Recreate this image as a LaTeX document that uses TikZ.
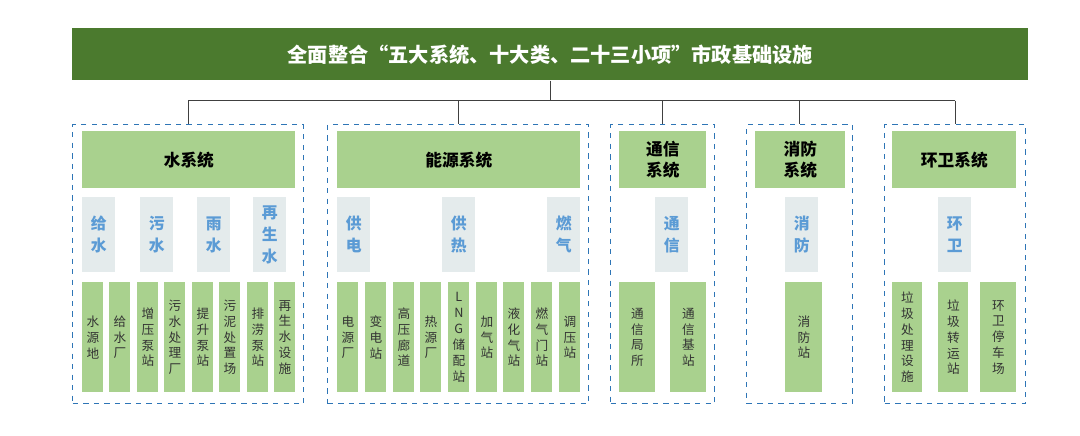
\documentclass[tikz,border=0pt]{standalone}
\usepackage{fontspec}
\setmainfont{Noto Sans CJK SC}
\usepackage{tikz}
\usetikzlibrary{calc,positioning}

\definecolor{titlegreen}{HTML}{4B7A2E}
\definecolor{lightgreen}{HTML}{A9D18E}
\definecolor{palegray}{HTML}{E4EBEC}
\definecolor{catblue}{HTML}{5B9BD5}
\definecolor{dashblue}{HTML}{2E75B6}

\tikzset{
  titlebox/.style={fill=titlegreen,text=white,font=\bfseries\fontsize{11.5}{13}\selectfont,anchor=north west,inner sep=0pt},
  groupbox/.style={draw=dashblue,dashed,thick,anchor=north west,inner sep=0pt},
  headbox/.style={fill=lightgreen,font=\bfseries\fontsize{9.5}{12}\selectfont,anchor=north west,inner sep=0pt,align=center},
  catbox/.style={fill=palegray,text=catblue,font=\bfseries\fontsize{9}{12.5}\selectfont,anchor=north west,inner sep=0pt,align=center},
  leafbox/.style={fill=lightgreen,text=black!80,font=\fontsize{7.2}{9}\selectfont,anchor=north west,inner sep=0pt,align=center},
  link/.style={draw=black!75,thick}
}

\begin{document}
\begin{tikzpicture}[x=0.02cm,y=-0.02cm]
  \useasboundingbox (0,0) rectangle (1080,436);

  %title
  \node[titlebox,minimum width=956*0.02cm,minimum height=52*0.02cm] (title) at (72,28) {全面整合“五大系统、十大类、二十三小项”市政基础设施};

  %dashed groups
  \foreach \name/\x/\w in {water/72/231,energy/327/261,comm/610/104,fire/746/106,env/884/141}
    \node[groupbox,minimum width=\w*0.02cm,minimum height=279*0.02cm] (\name) at (\x,124) {};

  %connectors
  \draw[link] (title.south) -- ++(0,20) coordinate (bus);
  \draw[link] (bus -| water.north) -- (bus -| env.north);
  \foreach \name in {water,energy,comm,fire,env}
    \draw[link] (bus -| \name.north) -- (\name.north);

  %headers
  \foreach \name/\x/\w/\txt in {hwater/82/213/水系统,henergy/337/243/能源系统,hcomm/619/87/通信\\系统,hfire/755/90/消防\\系统,henv/892/124/环卫系统}
    \node[headbox,minimum width=\w*0.02cm,minimum height=57*0.02cm] (\name) at (\x,131) {\txt};

  %categories
  \foreach \name/\x/\txt in {c1/82/给\\水,c2/140/污\\水,c3/197/雨\\水,c4/253/再\\生\\水,c5/337/供\\电,c6/442/供\\热,c7/547/燃\\气,c8/655/通\\信,c9/785/消\\防,c10/938/环\\卫}
    \node[catbox,minimum width=33*0.02cm,minimum height=75*0.02cm] (\name) at (\x,197) {\txt};

  %leaves
  \foreach \i/\x/\txt in {1/82/水\\源\\地,2/109/给\\水\\厂,3/137/增\\压\\泵\\站,4/164/污\\水\\处\\理\\厂,5/192/提\\升\\泵\\站,6/219/污\\泥\\处\\置\\场,7/247/排\\涝\\泵\\站,8/274/再\\生\\水\\设\\施,
    9/337/电\\源\\厂,10/365/变\\电\\站,11/393/高\\压\\廊\\道,12/420/热\\源\\厂,13/448/L\\N\\G\\储\\配\\站,14/476/加\\气\\站,15/503/液\\化\\气\\站,16/531/燃\\气\\门\\站,17/559/调\\压\\站}
    \node[leafbox,minimum width=21*0.02cm,minimum height=110*0.02cm] (leaf\i) at (\x,282) {\txt};
  \foreach \i/\x/\w/\txt in {18/619/36/通\\信\\局\\所,19/670/36/通\\信\\基\\站,20/785/37/消\\防\\站,21/892/30/垃\\圾\\处\\理\\设\\施,22/938/30/垃\\圾\\转\\运\\站,23/980/36/环\\卫\\停\\车\\场}
    \node[leafbox,minimum width=\w*0.02cm,minimum height=110*0.02cm] (leaf\i) at (\x,282) {\txt};
\end{tikzpicture}
\end{document}
